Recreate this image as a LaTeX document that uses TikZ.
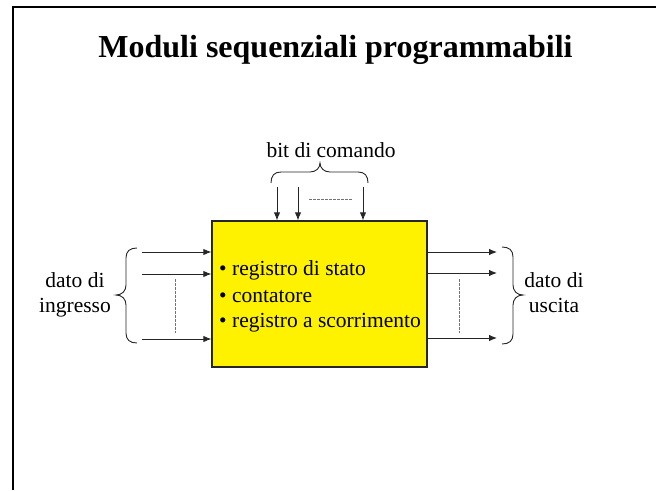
\documentclass[tikz,border=0pt]{standalone}
\usepackage{fontspec}
\setmainfont{Liberation Serif}
\usetikzlibrary{arrows.meta}
\begin{document}
\begin{tikzpicture}[x=1pt,y=-1pt,
  lbl/.style={font=\fontsize{21.5}{25}\selectfont, inner sep=0pt},
  sig/.style={line width=0.9pt, draw=black!85, -{Latex[length=8pt,width=6.5pt]}},
  dots/.style={line width=0.7pt, draw=black!55, dash pattern=on 2.5pt off 1.5pt},
  brc/.style={line width=0.9pt, draw=black!85},
  modbox/.style={draw=black!85, line width=1.3pt, fill=yellow, minimum width=215pt, minimum height=146pt, inner sep=0pt}]
\useasboundingbox (0,0) rectangle (656,490);
% frame
\draw[line width=2.6pt] (13,490) -- (13,7) -- (656,7);
% title
\node[font=\fontsize{32}{36}\selectfont\bfseries, anchor=base, inner sep=0pt] (title) at (335.5,57) {Moduli sequenziali programmabili};
% main box
\node[modbox] (box) at (319.5,294) {};
\node[lbl, anchor=base west] (t1) at (219,275) {• registro di stato};
\node[lbl, anchor=base west] (t2) at (219,302) {• contatore};
\node[lbl, anchor=base west] (t3) at (219,327) {• registro a scorrimento};
% top command bits
\coordinate (c1) at (277,187);
\coordinate (c2) at (298,187);
\coordinate (c3) at (363,187);
\draw[sig] (c1) -- (c1 |- box.north);
\draw[sig] (c2) -- (c2 |- box.north);
\draw[sig] (c3) -- (c3 |- box.north);
\coordinate (cd1) at (309,199);
\coordinate (cd2) at (352,199);
\draw[dots] (cd1) -- (cd2);
\draw[brc] (271,183) .. controls (271,176) and (274,172) .. (281,172) -- (310,172) .. controls (316,172) and (320,168) .. (320,163) .. controls (320,168) and (324,172) .. (330,172) -- (358,172) .. controls (365,172) and (368,176) .. (368,183);
\node[lbl, anchor=base] (cmd) at (331,157) {bit di comando};
% input lines
\coordinate (i1) at (142,252);
\coordinate (i2) at (142,274);
\coordinate (i3) at (142,339);
\draw[sig] (i1) -- (i1 -| box.west);
\draw[sig] (i2) -- (i2 -| box.west);
\draw[sig] (i3) -- (i3 -| box.west);
\coordinate (id1) at (175,279);
\coordinate (id2) at (175,333);
\draw[dots] (id1) -- (id2);
\draw[brc] (137,248) .. controls (130,248) and (126,251) .. (126,258) -- (126,285) .. controls (126,291) and (122,295) .. (116,295) .. controls (122,295) and (126,299) .. (126,305) -- (126,333) .. controls (126,340) and (130,343) .. (137,343);
\node[lbl, align=center, anchor=base] (din) at (75,312) {dato di\\ingresso};
% output lines
\coordinate (o1) at (497,252);
\coordinate (o2) at (497,273);
\coordinate (o3) at (497,338);
\draw[sig] (o1 -| box.east) -- (o1);
\draw[sig] (o2 -| box.east) -- (o2);
\draw[sig] (o3 -| box.east) -- (o3);
\coordinate (od1) at (459,279);
\coordinate (od2) at (459,333);
\draw[dots] (od1) -- (od2);
\draw[brc] (502,247) .. controls (509,247) and (513,250) .. (513,257) -- (513,285) .. controls (513,291) and (517,295) .. (523,295) .. controls (517,295) and (513,299) .. (513,305) -- (513,334) .. controls (513,341) and (509,344) .. (502,344);
\node[lbl, align=center, anchor=base] (dout) at (554,312) {dato di\\uscita};
\end{tikzpicture}
\end{document}
